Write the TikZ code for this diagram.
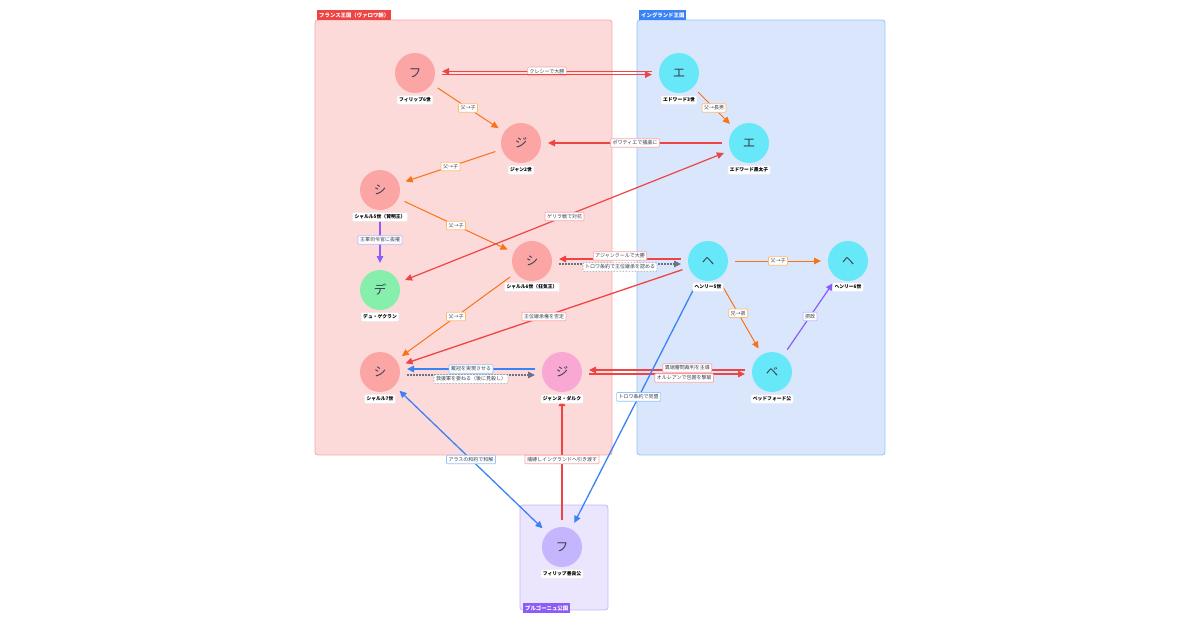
\documentclass[tikz,border=0pt]{standalone}
\usepackage{fontspec}
\setmainfont{Noto Sans CJK JP}
\usetikzlibrary{arrows.meta}
\definecolor{cOr}{HTML}{F97316}\definecolor{cOrL}{HTML}{FDBA74}
\definecolor{cRe}{HTML}{EF4444}\definecolor{cReL}{HTML}{FCA5A5}
\definecolor{cBl}{HTML}{3B82F6}\definecolor{cBlL}{HTML}{93C5FD}
\definecolor{cPu}{HTML}{8B5CF6}\definecolor{cPuL}{HTML}{C4B5FD}
\definecolor{cGr}{HTML}{6B7280}\definecolor{cGrL}{HTML}{9CA3AF}
\definecolor{fFr}{HTML}{FDDADA}\definecolor{fEn}{HTML}{DAE6FC}\definecolor{fBu}{HTML}{EBE5FE}
\definecolor{nFr}{HTML}{FCA5A5}\definecolor{nGn}{HTML}{86EFAC}\definecolor{nPk}{HTML}{F9A8D4}
\definecolor{nCy}{HTML}{67E8F9}\definecolor{nVi}{HTML}{C4B5FD}
\definecolor{tDark}{HTML}{374151}
\begin{document}
\begin{tikzpicture}[x=1pt,y=-1pt,
  person/.style={circle,minimum size=40pt,inner sep=0pt,outer sep=7pt,fill=#1,text=tDark,font=\fontsize{12.5}{12.5}\selectfont},
  nlab/.style={fill=white,draw=black!8,rounded corners=1pt,inner sep=2pt,font=\fontsize{4.8}{5}\selectfont\bfseries,text=black},
  elab/.style={fill=white,draw=#1,line width=0.7pt,rounded corners=1pt,inner sep=2pt,font=\fontsize{5}{5.5}\selectfont,text=tDark},
  tag/.style={fill=#1,text=white,inner sep=2pt,minimum height=10pt,font=\fontsize{5.4}{6}\selectfont\bfseries},
  frame/.style={draw=#1,line width=0.7pt,rounded corners=3pt},
  tip/.style={-{Triangle[length=7pt,width=6.5pt]}},
  eo/.style={draw=cOr,line width=1pt,tip},
  er/.style={draw=cRe,line width=1.3pt,tip},
  eb/.style={draw=cBl,line width=1.3pt,tip},
  ep/.style={draw=cPu,line width=1.2pt,tip},
  eg/.style={draw=cGr,line width=1.3pt,dash pattern=on 1.5pt off 1.5pt,tip},
  both/.style={{Triangle[length=7pt,width=6.5pt]}-{Triangle[length=7pt,width=6.5pt]}}
]
\useasboundingbox (0,0) rectangle (1200,630);
\fill[white] (0,0) rectangle (1200,630);
% frames
\fill[fFr] (315,20) rectangle (612,455);
\draw[frame=cReL] (315,20) rectangle (612,455);
\fill[fEn] (637,20) rectangle (885,455);
\draw[frame=cBlL] (637,20) rectangle (885,455);
\fill[fBu] (520,505) rectangle (608,610);
\draw[frame=cPuL] (520,505) rectangle (608,610);
\node[tag=cRe,anchor=south west] (tagfr) at (317,20.5) {フランス王国（ヴァロワ朝）};
\node[tag=cBl,anchor=south west] (tagen) at (639,20.5) {イングランド王国};
\node[tag=cPu,anchor=north west] (tagbu) at (523,603) {ブルゴーニュ公国};
% persons
\node[person=nFr] (f6) at (415,73) {フ};
\node[person=nFr] (j2) at (521,143) {ジ};
\node[person=nFr] (c5) at (380,190) {シ};
\node[person=nGn] (dg) at (380,290) {デ};
\node[person=nFr] (c6) at (532,261) {シ};
\node[person=nFr] (c7) at (380,372) {シ};
\node[person=nPk] (ja) at (562,372) {ジ};
\node[person=nCy] (e3) at (679,73) {エ};
\node[person=nCy] (bp) at (749,143) {エ};
\node[person=nCy] (h5) at (708,261) {ヘ};
\node[person=nCy] (h6) at (848,261) {ヘ};
\node[person=nCy] (bd) at (772,372) {ベ};
\node[person=nVi] (pb) at (562,547) {フ};
% edges
\draw[er] ([yshift=1.6pt]e3.west) -- node[elab=cReL]{クレシーで大勝} ([yshift=1.6pt]f6.east);
\draw[er] ([yshift=-1.6pt]f6.east) -- ([yshift=-1.6pt]e3.west);
\draw[eo] (f6) -- node[elab=cOrL]{父→子} (j2);
\draw[eo] (j2) -- node[elab=cOrL]{父→子} (c5);
\draw[eo] (c5) -- node[elab=cOrL]{父→子} (c6);
\draw[eo] (c6) -- node[elab=cOrL]{父→子} (c7);
\draw[ep] (c5) -- node[elab=cPuL]{王軍司令官に抜擢} (dg);
\draw[eo] (e3) -- node[elab=cOrL]{父→長男} (bp);
\draw[er] (bp) -- node[elab=cReL]{ポワティエで捕虜に} (j2);
\draw[draw=cRe,line width=1.2pt,both] (dg) -- node[elab=cReL]{ゲリラ戦で対抗} (bp);
\draw[er] ([yshift=2pt]h5.west) -- node[elab=cReL,yshift=3pt]{アジャンクールで大勝} ([yshift=2pt]c6.east);
\draw[eg] ([yshift=-3pt]c6.east) -- node[elab=cGrL,yshift=-3pt]{トロワ条約で王位継承を認める} ([yshift=-3pt]h5.west);
\draw[eo] (h5) -- node[elab=cOrL]{父→子} (h6);
\draw[eo] (h5) -- node[elab=cOrL,pos=0.45]{兄→弟} (bd);
\draw[ep] (bd) -- node[elab=cPuL]{摂政} (h6);
\draw[er] (h5) -- node[elab=cReL]{王位継承権を否定} (c7);
\draw[eb] ([yshift=3pt]ja.west) -- node[elab=cBlL]{戴冠を実現させる} ([yshift=3pt]c7.east);
\draw[eg] ([yshift=-3pt]c7.east) -- node[elab=cGrL,yshift=-4pt]{救援軍を委ねる（後に見殺し）} ([yshift=-3pt]ja.west);
\draw[er] ([yshift=2pt]bd.west) -- node[elab=cReL,yshift=2pt,pos=0.37]{異端審問裁判を主導} ([yshift=2pt]ja.east);
\draw[er] ([yshift=-2pt]ja.east) -- node[elab=cReL,yshift=-4pt,pos=0.61]{オルレアンで包囲を撃破} ([yshift=-2pt]bd.west);
\draw[eb] (h5) -- node[elab=cBlL,pos=0.47]{トロワ条約で同盟} (pb);
\draw[draw=cBl,line width=1.3pt,both] (pb) -- node[elab=cBlL]{アラスの和約で和解} (c7);
\draw[er] (pb) -- node[elab=cReL]{捕縛しイングランドへ引き渡す} (ja);
% person labels
\node[nlab] (f6l) at (415,100) {フィリップ6世};
\node[nlab] (j2l) at (521,170) {ジャン2世};
\node[nlab] (c5l) at (380,217) {シャルル5世（賢明王）};
\node[nlab] (dgl) at (380,317) {デュ・ゲクラン};
\node[nlab] (c6l) at (532,287) {シャルル6世（狂気王）};
\node[nlab] (c7l) at (380,399) {シャルル7世};
\node[nlab] (jal) at (562,399) {ジャンヌ・ダルク};
\node[nlab] (e3l) at (679,100) {エドワード3世};
\node[nlab] (bpl) at (749,170) {エドワード黒太子};
\node[nlab] (h5l) at (708,287) {ヘンリー5世};
\node[nlab] (h6l) at (848,287) {ヘンリー6世};
\node[nlab] (bdl) at (772,399) {ベッドフォード公};
\node[nlab] (pbl) at (562,574) {フィリップ善良公};
\end{tikzpicture}
\end{document}
